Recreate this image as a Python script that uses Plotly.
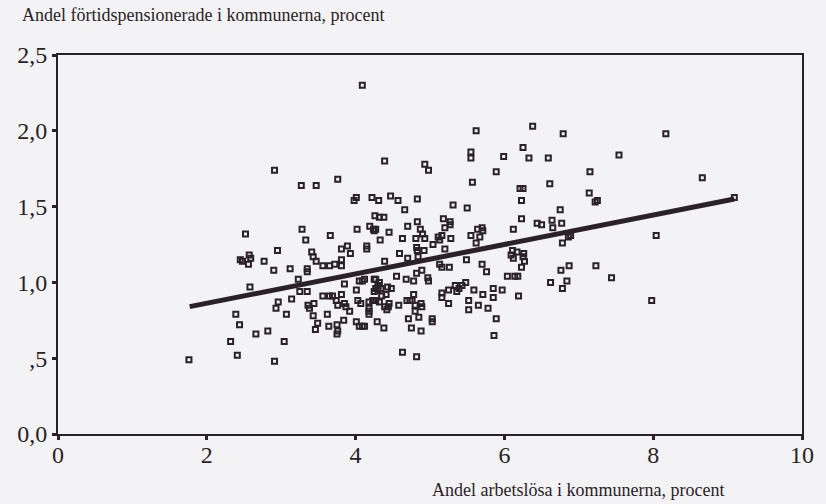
import plotly.graph_objects as go

# Andel arbetslösa (x) and andel förtidspensionerade (y), procent
unemployment = [
    2.91, 3.27, 3.47, 3.76, 4.01, 3.98, 2.52, 3.28, 3.33, 3.66, 4.02, 2.95, 2.57, 2.45, 2.48, 2.59,
    2.56, 2.77, 2.90, 3.12, 3.35, 3.35, 3.41, 3.43, 3.47, 3.56, 3.65, 3.72, 3.81, 3.81, 3.81, 3.89,
    3.93, 3.23, 2.58, 3.25, 3.35, 3.85, 3.14, 2.96, 2.93, 3.07, 2.39, 2.44, 2.66, 2.82, 2.32, 3.04,
    2.41, 2.91, 1.76, 3.36, 3.38, 3.44, 3.56, 3.65, 3.69, 3.74, 3.76, 3.81, 3.85, 3.87, 3.92, 3.43,
    3.62, 3.49, 3.46, 3.64, 3.75, 3.84, 3.76, 3.75,
    4.09, 4.39, 4.22, 4.31, 4.47, 4.57, 4.83, 4.66, 4.26, 4.32, 4.38, 4.83,
    5.31, 5.18, 5.27, 5.27, 5.20, 4.19, 4.24, 4.27, 4.25, 4.45, 4.70, 4.87, 4.90, 4.33, 4.63, 4.81,
    4.93, 5.11, 5.16, 5.13, 5.28, 5.04, 4.15, 4.15, 4.82, 4.83, 4.92, 5.20, 4.59, 4.70, 4.84, 4.39,
    5.13, 5.16, 5.26, 4.89, 4.82, 4.55, 4.68, 4.97, 4.25,
    4.05, 4.09, 4.12, 4.27, 4.32, 4.30, 4.27, 4.25, 4.30, 4.34, 4.78, 4.98, 4.01, 4.43, 4.48, 4.35,
    4.41, 4.03, 4.07, 4.18, 4.23, 4.27, 4.32, 4.45, 4.44, 4.39, 4.42, 4.18, 4.18, 4.18, 4.58, 4.69,
    4.73, 4.76, 4.78, 4.80, 4.80, 4.88, 4.89, 5.16, 5.16, 5.25, 5.34, 5.36, 5.25, 4.01, 4.05, 4.09,
    4.12, 4.29, 4.38, 4.71, 4.85, 5.03, 5.03, 4.75, 4.88, 4.63, 4.82,
    6.21, 6.25, 6.61, 6.23, 5.50, 6.23, 6.12, 6.44, 6.50, 6.64, 6.65, 5.64, 5.70, 5.71, 5.55, 5.67,
    5.62, 5.49, 5.70, 5.76, 6.11, 6.17, 6.09, 6.12, 6.26, 6.25, 6.27, 6.23, 6.04, 6.14, 6.18,
    6.62, 5.48, 5.43, 5.39, 5.59, 5.71, 5.85, 5.85, 5.97, 6.19, 5.52, 5.52, 5.65, 5.78, 5.89, 5.86,
    5.62, 6.38, 6.79, 6.25, 5.55, 5.55, 5.99, 6.33, 6.59, 4.93, 4.98, 5.89, 7.15, 5.57,
    7.14, 7.25, 7.22, 6.75, 6.77, 6.89, 6.86, 6.78, 7.23, 6.87, 6.76, 7.44, 6.84, 6.78,
    8.17, 7.54, 8.66, 9.09, 8.04, 7.98,
]
early_pension = [
    1.74, 1.64, 1.64, 1.68, 1.56, 1.54, 1.32, 1.35, 1.28, 1.31, 1.35, 1.21, 1.18, 1.15, 1.14, 1.16,
    1.12, 1.14, 1.08, 1.09, 1.09, 1.07, 1.20, 1.17, 1.14, 1.11, 1.11, 1.12, 1.15, 1.11, 1.22, 1.24,
    1.19, 1.02, 0.97, 0.94, 0.94, 0.99, 0.89, 0.87, 0.83, 0.79, 0.79, 0.72, 0.66, 0.68, 0.61, 0.61,
    0.52, 0.48, 0.49, 0.85, 0.83, 0.86, 0.91, 0.91, 0.91, 0.88, 0.85, 0.92, 0.86, 0.84, 0.81, 0.78,
    0.79, 0.73, 0.69, 0.71, 0.72, 0.75, 0.68, 0.66,
    2.30, 1.80, 1.56, 1.54, 1.57, 1.54, 1.55, 1.48, 1.44, 1.43, 1.43, 1.40,
    1.51, 1.42, 1.40, 1.38, 1.36, 1.37, 1.35, 1.35, 1.34, 1.33, 1.37, 1.35, 1.32, 1.28, 1.29, 1.29,
    1.29, 1.30, 1.31, 1.28, 1.29, 1.25, 1.24, 1.22, 1.23, 1.21, 1.21, 1.22, 1.19, 1.16, 1.17, 1.14,
    1.12, 1.10, 1.10, 1.08, 1.06, 1.04, 1.02, 1.03, 1.02,
    1.01, 1.01, 1.02, 1.02, 1.00, 0.98, 0.96, 0.94, 0.95, 0.96, 1.01, 1.01, 0.95, 0.97, 0.96, 0.91,
    0.92, 0.88, 0.86, 0.87, 0.88, 0.88, 0.87, 0.86, 0.84, 0.84, 0.82, 0.83, 0.81, 0.79, 0.85, 0.88,
    0.88, 0.88, 0.92, 0.85, 0.81, 0.86, 0.84, 0.93, 0.90, 0.95, 0.98, 0.94, 0.86, 0.74, 0.71, 0.71,
    0.71, 0.74, 0.70, 0.76, 0.77, 0.76, 0.74, 0.70, 0.68, 0.54, 0.51,
    1.62, 1.62, 1.65, 1.54, 1.49, 1.42, 1.35, 1.39, 1.38, 1.41, 1.36, 1.35, 1.36, 1.34, 1.31, 1.30,
    1.26, 1.15, 1.12, 1.07, 1.21, 1.20, 1.18, 1.16, 1.19, 1.17, 1.14, 1.10, 1.04, 1.04, 1.04,
    1.00, 1.00, 0.98, 0.96, 0.95, 0.92, 0.96, 0.90, 0.95, 0.91, 0.88, 0.82, 0.85, 0.83, 0.76, 0.65,
    2.00, 2.03, 1.98, 1.89, 1.86, 1.82, 1.83, 1.82, 1.82, 1.78, 1.74, 1.73, 1.73, 1.66,
    1.59, 1.54, 1.53, 1.48, 1.39, 1.31, 1.30, 1.26, 1.11, 1.11, 1.08, 1.03, 1.01, 0.96,
    1.98, 1.84, 1.69, 1.56, 1.31, 0.88,
]

# Regression line end points
fit_x = [1.77, 9.09]
fit_y = [0.84, 1.55]

x_ticks = [0, 2, 4, 6, 8, 10]
x_tick_text = ["0", "2", "4", "6", "8", "10"]
y_ticks = [0, 0.5, 1.0, 1.5, 2.0, 2.5]
y_tick_text = ["0,0", ",5", "1,0", "1,5", "2,0", "2,5"]

ink = "#2a2226"
paper = "#f3f3f5"
serif = "Liberation Serif, Times New Roman, serif"

fig = go.Figure()
fig.add_trace(go.Scatter(
    x=unemployment, y=early_pension, mode="markers",
    marker=dict(symbol="square-open", size=5, color=ink, line=dict(width=2, color=ink)),
    showlegend=False, hoverinfo="x+y",
))
fig.add_trace(go.Scatter(
    x=fit_x, y=fit_y, mode="lines",
    line=dict(color=ink, width=5),
    showlegend=False, hoverinfo="skip",
))

fig.update_layout(
    width=826, height=504,
    margin=dict(l=58, r=20, t=55, b=70),
    paper_bgcolor=paper, plot_bgcolor=paper,
    font=dict(family=serif, color=ink),
    xaxis=dict(
        range=[0, 10], tickvals=x_ticks, ticktext=x_tick_text,
        showgrid=False, zeroline=False,
        showline=True, mirror=True, linecolor=ink, linewidth=2,
        ticks="outside", ticklen=4, tickwidth=3, tickcolor=ink,
        ticklabelstandoff=-6,
        tickfont=dict(family=serif, size=24, color=ink),
    ),
    yaxis=dict(
        range=[0, 2.5], tickvals=y_ticks, ticktext=y_tick_text,
        showgrid=False, zeroline=False,
        showline=True, mirror=True, linecolor=ink, linewidth=2,
        ticks="outside", ticklen=4, tickwidth=3, tickcolor=ink,
        tickfont=dict(family=serif, size=24, color=ink),
    ),
    annotations=[
        dict(text="Andel förtidspensionerade i kommunerna, procent",
             xref="paper", yref="paper", x=-0.051, y=1.106,
             xanchor="left", yanchor="middle", showarrow=False,
             font=dict(family=serif, size=18, color=ink)),
        dict(text="Andel arbetslösa i kommunerna, procent",
             xref="paper", yref="paper", x=0.5, y=-0.148,
             xanchor="left", yanchor="middle", showarrow=False,
             font=dict(family=serif, size=18, color=ink)),
    ],
)

fig.write_html("out.html")
